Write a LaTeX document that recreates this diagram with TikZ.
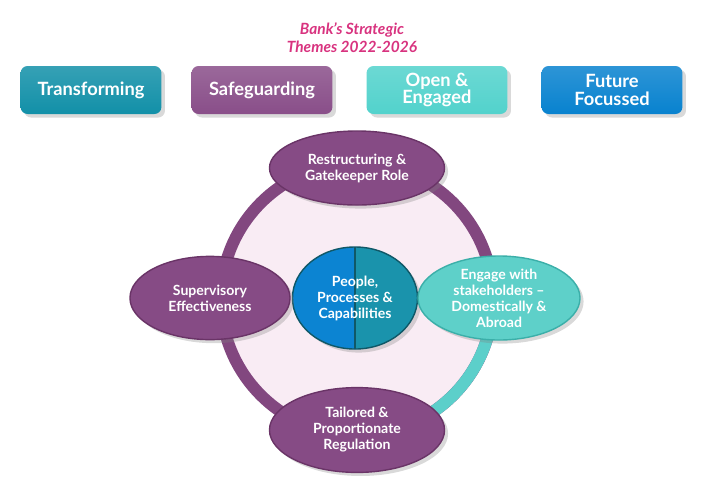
\documentclass[tikz,border=0pt]{standalone}
\usepackage{fontspec}
\setmainfont{Lato}
\usepackage{tikz}
\usetikzlibrary{shapes.geometric,shadows}
\usepackage{xcolor}
\definecolor{titlepink}{HTML}{D8337F}
\definecolor{boxteal}{HTML}{1290A8}
\definecolor{boxpurple}{HTML}{894E89}
\definecolor{boxturq}{HTML}{52D2CC}
\definecolor{boxblue}{HTML}{0882CF}
\definecolor{ringpurple}{HTML}{82477F}
\definecolor{ringturq}{HTML}{5CCFCA}
\definecolor{ringfill}{HTML}{F9ECF4}
\definecolor{bubpurple}{HTML}{864B85}
\definecolor{bubedge}{HTML}{6A3467}
\definecolor{bubturq}{HTML}{5ED0C9}
\definecolor{turqedge}{HTML}{3BAFA9}
\definecolor{midblue}{HTML}{0C84D2}
\definecolor{midteal}{HTML}{1A93AC}

\begin{document}
\begin{tikzpicture}[x=0.025cm,y=-0.025cm,
		theme/.style={rectangle,rounded corners=5pt,minimum width=3.52cm,minimum height=1.2cm,inner sep=0pt,text=white,align=center,font=\fontsize{13}{12.6}\selectfont\bfseries,drop shadow={opacity=0.3}},
		bubble/.style={ellipse,inner sep=0pt,text=white,align=center,font=\fontsize{10}{11.4}\selectfont\bfseries,line width=1pt,drop shadow={opacity=0.3}},
		ring/.style={line width=8.5pt}]
				\useasboundingbox (0,0) rectangle (704,496);
				
				% title and the four themes
				\node(title) at (352,38)[text=titlepink,align=center,font=\fontsize{11}{12.6}\selectfont\bfseries\itshape]{Bank's Strategic\\Themes 2022-2026};
				\node(1) at (91,90)[theme,top color=boxteal!85!white,bottom color=boxteal]{Transforming};
				\node(2) at (262,90)[theme,top color=boxpurple!85!white,bottom color=boxpurple]{Safeguarding};
				\node(3) at (437,90)[theme,top color=boxturq!85!white,bottom color=boxturq]{Open \&\\Engaged};
				\node(4) at (612,90)[theme,top color=boxblue!85!white,bottom color=boxblue]{Future\\Focussed};
				
				% ring
				\coordinate(o) at (357,299);
				\draw[ring,draw=ringpurple,fill=ringfill] (o) circle[radius=136];
				\draw[ring,draw=ringturq] (o) ++(14:136) arc[start angle=14,end angle=60,radius=136];
				
				% centre, split in two halves
				\coordinate(m) at (355,298);
				\path[fill=midblue,drop shadow={opacity=0.3}] (m) ellipse[x radius=62.5,y radius=51];
				\begin{scope}
					\clip (m) ellipse[x radius=62.5,y radius=51];
					\fill[midblue] (m) ++(-70,-60) rectangle ++(70,120);
					\fill[midteal] (m) ++(0,-60) rectangle ++(70,120);
					\draw[midteal!60!black,line width=0.8pt] (m) ++(0,-60) -- ++(0,120);
				\end{scope}
				\node(5) at (m)[ellipse,inner sep=0pt,text=white,align=center,font=\fontsize{10}{11.4}\selectfont\bfseries,line width=1pt,draw=midteal!60!black,minimum width=3.125cm,minimum height=2.55cm]{People,\\Processes \&\\Capabilities};
				
				% the four around it
				\node(6) at (357,168)[bubble,fill=bubpurple,draw=bubedge,minimum width=4.375cm,minimum height=1.85cm]{Restructuring \&\\Gatekeeper Role};
				\node(7) at (210,298)[bubble,fill=bubpurple,draw=bubedge,minimum width=4cm,minimum height=2.08cm]{Supervisory\\Effectiveness};
				\node(8) at (499,298)[bubble,fill=bubturq,draw=turqedge,minimum width=4.05cm,minimum height=2.1cm]{Engage with\\stakeholders --\\Domestically \&\\Abroad};
				\node(9) at (357,430)[bubble,fill=bubpurple,draw=bubedge,minimum width=4.375cm,minimum height=2.12cm]{Tailored \&\\Proportionate\\Regulation};
				
			\end{tikzpicture}
\end{document}
